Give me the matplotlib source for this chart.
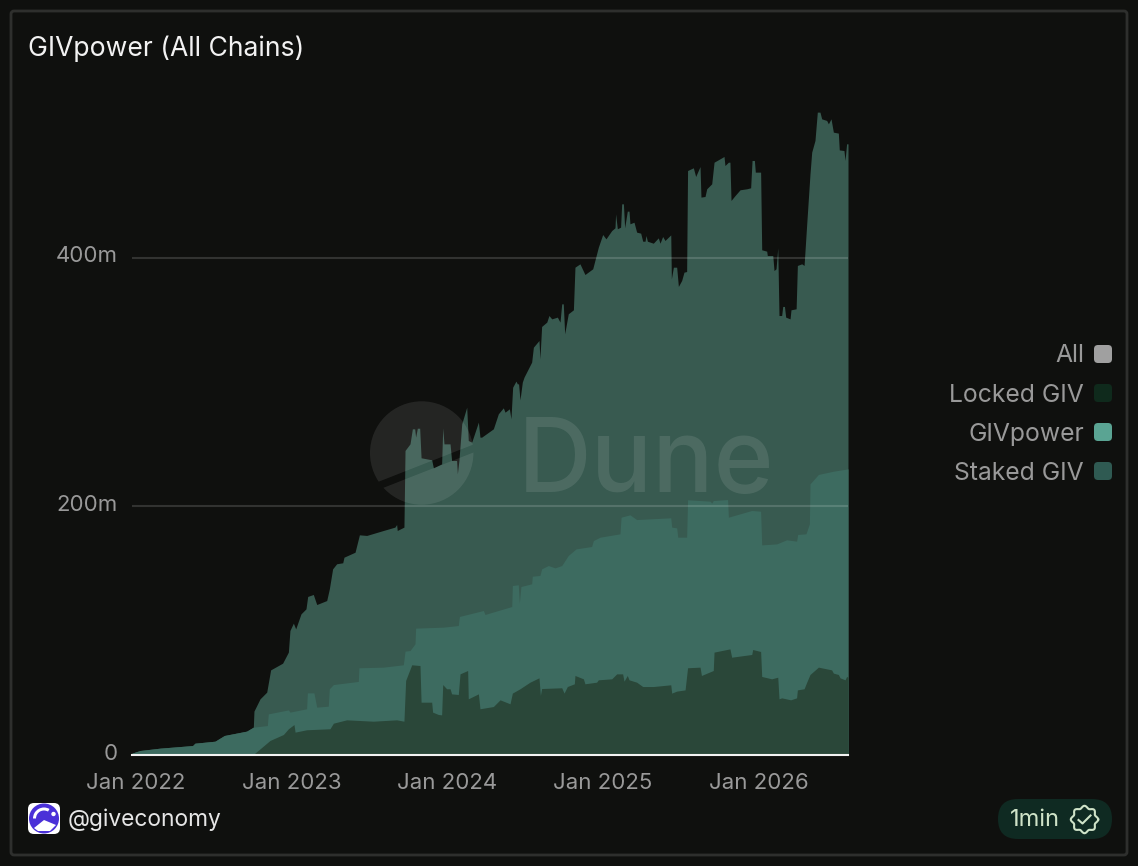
import numpy as np
import matplotlib
matplotlib.use('Agg')
import matplotlib.pyplot as plt
from matplotlib.patches import Circle, FancyBboxPatch, Polygon, Wedge
from matplotlib.transforms import ScaledTranslation

plt.rcParams['font.family'] = ['Inter', 'DejaVu Sans']

# x values are decimal years, y values are millions
staked_x = [2021.976, 2022.027, 2022.156, 2022.365, 2022.380, 2022.509, 2022.569, 2022.712, 2022.755, 2022.759,
            2022.798, 2022.841, 2022.866, 2022.943, 2022.980, 2022.990, 2023.012, 2023.027, 2023.061, 2023.093,
            2023.104, 2023.140, 2023.162, 2023.226, 2023.243, 2023.264, 2023.290, 2023.329, 2023.337, 2023.408,
            2023.436, 2023.483, 2023.590, 2023.664, 2023.675, 2023.679, 2023.722, 2023.729, 2023.761, 2023.776,
            2023.791, 2023.797, 2023.808, 2023.823, 2023.832, 2023.900, 2023.911, 2023.964, 2023.971, 2023.979,
            2024.018, 2024.028, 2024.060, 2024.065, 2024.075, 2024.093, 2024.125, 2024.135, 2024.157, 2024.200,
            2024.210, 2024.221, 2024.296, 2024.328, 2024.360, 2024.371, 2024.399, 2024.409, 2024.420, 2024.441,
            2024.450, 2024.458, 2024.467, 2024.482, 2024.493, 2024.542, 2024.553, 2024.589, 2024.595, 2024.606,
            2024.639, 2024.653, 2024.671, 2024.707, 2024.724, 2024.735, 2024.745, 2024.754, 2024.777, 2024.810,
            2024.820, 2024.852, 2024.884, 2024.934, 2024.970, 2024.998, 2025.019, 2025.056, 2025.077, 2025.081,
            2025.092, 2025.113, 2025.120, 2025.131, 2025.139, 2025.156, 2025.167, 2025.173, 2025.199, 2025.216,
            2025.242, 2025.255, 2025.270, 2025.276, 2025.285, 2025.323, 2025.355, 2025.366, 2025.383, 2025.398,
            2025.435, 2025.439, 2025.452, 2025.473, 2025.484, 2025.505, 2025.520, 2025.537, 2025.543, 2025.580,
            2025.595, 2025.623, 2025.629, 2025.655, 2025.666, 2025.698, 2025.713, 2025.751, 2025.777, 2025.783,
            2025.805, 2025.815, 2025.822, 2025.848, 2025.880, 2025.923, 2025.948, 2025.957, 2025.972, 2025.978,
            2026.012, 2026.019, 2026.051, 2026.055, 2026.090, 2026.098, 2026.111, 2026.122, 2026.130, 2026.147,
            2026.154, 2026.165, 2026.173, 2026.201, 2026.207, 2026.240, 2026.248, 2026.276, 2026.291, 2026.308,
            2026.329, 2026.340, 2026.361, 2026.376, 2026.393, 2026.404, 2026.436, 2026.447, 2026.464, 2026.479,
            2026.511, 2026.517, 2026.547, 2026.554, 2026.564, 2026.573]
staked_y = [1.1, 3.2, 5.1, 7.2, 9.1, 10.7, 15.3, 18.8, 22, 34.9,
            44.8, 50.2, 68.1, 73.5, 82.4, 99.8, 105.7, 101.1, 113.2, 117.2,
            127.2, 128.8, 120.7, 123.9, 133.3, 149.4, 153.5, 154.3, 158.8, 162.8,
            176.8, 176.3, 180.3, 183, 185.1, 180.3, 183, 244.7, 250, 262.1,
            262.1, 255.4, 262.6, 262.6, 238.8, 237.2, 230.7, 233.9, 262.9, 250,
            250, 236.6, 236.6, 225.9, 236.6, 266.1, 279.5, 252.7, 251.4, 267.5,
            255.4, 255.4, 262.1, 274.2, 279, 275.5, 278.2, 270.2, 295.6, 300.5,
            298.3, 298.3, 285.4, 299.7, 303.7, 315.8, 327.8, 333.2, 318.4, 344.5,
            348, 353.3, 350.6, 352, 348, 362.7, 362.7, 338.6, 354.7, 357.9,
            392.2, 394.9, 386.3, 390.9, 408.3, 418.5, 415, 421.7, 423.9, 435.1,
            423.1, 424.4, 443.2, 443.2, 423.9, 437.3, 437.3, 427.1, 428.4, 420.4,
            419.6, 413.1, 413.1, 417.7, 413.1, 411.5, 415.8, 411.5, 416.9, 413.7,
            418.2, 382.8, 392.2, 392.2, 376.7, 381.5, 388.2, 388.7, 470, 472.2,
            465.2, 473.2, 448.6, 449.1, 455.3, 459.3, 476.7, 479.4, 481.3, 474,
            476.7, 476.7, 445.9, 449.9, 454.5, 455.3, 456.1, 478.1, 478.1, 468.7,
            468.7, 406.2, 405.1, 401.6, 401.6, 389.5, 390.9, 407.8, 353.3, 353.3,
            360.6, 360.6, 352, 350.6, 357.9, 358.7, 393.6, 394.9, 393.6, 427.1,
            467.3, 484.8, 494.2, 517, 517, 511.6, 510.3, 507.6, 511.6, 500.9,
            500.1, 486.6, 486.1, 478.1, 491.5, 491.5]

givpower_x = [2021.976, 2022.027, 2022.156, 2022.365, 2022.380, 2022.509, 2022.569, 2022.712, 2022.755,
              2022.845, 2022.851, 2022.980, 2022.990, 2023.097, 2023.102, 2023.144, 2023.162, 2023.236, 2023.243,
              2023.269, 2023.429, 2023.433, 2023.590, 2023.718, 2023.729, 2023.761, 2023.793, 2023.797, 2023.975,
              2024.071, 2024.078, 2024.232, 2024.242, 2024.414, 2024.418, 2024.456, 2024.463, 2024.473, 2024.542,
              2024.546, 2024.595, 2024.606, 2024.649, 2024.692, 2024.735, 2024.777, 2024.827, 2024.927, 2024.938,
              2024.981, 2025.109, 2025.116, 2025.173, 2025.216, 2025.435, 2025.441, 2025.473, 2025.480, 2025.537,
              2025.543, 2025.687, 2025.698, 2025.708, 2025.800, 2025.805, 2025.955, 2026.012, 2026.019, 2026.115,
              2026.179, 2026.243, 2026.250, 2026.303, 2026.325, 2026.329, 2026.383, 2026.479, 2026.573]
givpower_y = [1.1, 3.2, 5.1, 7.2, 9.1, 10.7, 15.3, 18.8, 22,
              23.3, 32.7, 35.9, 34.1, 36.8, 49.6, 49.6, 38.1, 38.9, 52.9,
              56.3, 58.8, 69.8, 70.3, 72.2, 83.2, 83.7, 89.1, 101.7, 102.5,
              103.8, 111.1, 115.9, 112.7, 119.1, 136, 136.6, 121.8, 135.2, 137.4,
              143.5, 144.1, 149.4, 152.1, 150.2, 152.1, 160.2, 165.5, 167.4, 172.2,
              174.9, 177.6, 191, 192.9, 189.1, 190.5, 183, 182.4, 174.9, 174.9,
              205, 203.9, 202.3, 204.4, 205.2, 191, 196.4, 195.8, 168.7, 169.5,
              172.8, 171.7, 177.1, 177.6, 185.6, 217.8, 225.4, 228, 229.9]

locked_x = [2022.755, 2022.862, 2022.948, 2022.980, 2023.016, 2023.023, 2023.097, 2023.247, 2023.269, 2023.354,
            2023.525, 2023.675, 2023.722, 2023.733, 2023.772, 2023.825, 2023.832, 2023.900, 2023.906, 2023.943,
            2023.964, 2023.971, 2023.996, 2024.018, 2024.028, 2024.071, 2024.082, 2024.131, 2024.135, 2024.200,
            2024.210, 2024.296, 2024.339, 2024.403, 2024.418, 2024.467, 2024.531, 2024.589, 2024.598, 2024.606,
            2024.735, 2024.750, 2024.771, 2024.816, 2024.820, 2024.874, 2024.884, 2024.959, 2024.970, 2025.056,
            2025.088, 2025.126, 2025.135, 2025.156, 2025.167, 2025.216, 2025.255, 2025.323, 2025.435, 2025.441,
            2025.473, 2025.527, 2025.543, 2025.623, 2025.632, 2025.708, 2025.713, 2025.815, 2025.826, 2025.955,
            2025.961, 2026.012, 2026.019, 2026.083, 2026.122, 2026.130, 2026.147, 2026.205, 2026.243, 2026.248,
            2026.291, 2026.308, 2026.329, 2026.383, 2026.468, 2026.479, 2026.511, 2026.522, 2026.554, 2026.564,
            2026.573]
locked_y = [0, 11.3, 16.1, 20.7, 24.1, 18, 19.9, 20.7, 25.2, 27.9,
            26.8, 27.9, 26.8, 59.6, 72.2, 71.6, 42.1, 42.1, 34.1, 32.2,
            31.9, 56.3, 52.9, 52.9, 48.8, 48.3, 64.9, 67.6, 44.8, 48.8,
            36.8, 38.6, 44, 40.8, 49.4, 52.9, 58.2, 61.7, 47.5, 53.1,
            53.7, 49.4, 54.7, 56.9, 63.6, 60.9, 56.9, 58.2, 60.1, 60.9,
            64.9, 64.9, 59, 63.6, 60.1, 58.2, 54.7, 54.7, 56.1, 49.4,
            51, 52, 69.8, 70.3, 63.6, 67.6, 82.4, 85, 78.3, 80.5,
            84.5, 82.9, 62.8, 60.9, 62.2, 44.8, 45.6, 44, 45.6, 52,
            52.9, 58.2, 64.4, 70.3, 68.1, 65.5, 64.4, 61.7, 60.1, 62.8,
            62.2]

x_ticks = [2022, 2023, 2024, 2025, 2026]
x_labels = ['Jan 2022', 'Jan 2023', 'Jan 2024', 'Jan 2025', 'Jan 2026']
y_ticks = [0, 200, 400]
y_labels = ['0', '200m', '400m']
legend_names = ['All', 'Locked GIV', 'GIVpower', 'Staked GIV']
legend_colors = ['#a0a0a0', '#0f2a1c', '#5aa493', '#2f5a52']

W, H = 1138, 866
BG = '#0f100e'
GRAY = '#999999'

fig = plt.figure(figsize=(W / 100, H / 100), dpi=100, facecolor=BG)

# page layer in pixel coordinates for frame, legend and footer
page = fig.add_axes([0, 0, 1, 1], zorder=0)
page.set_xlim(0, W)
page.set_ylim(H, 0)
page.axis('off')
page.add_patch(FancyBboxPatch((11, 11), W - 22, H - 22, boxstyle='round,pad=0,rounding_size=3',
                              fc='none', ec='#2e2f2d', lw=2))
page.text(28, 49, 'GIVpower (All Chains)', color='#f2f2f2', fontsize=19.1, va='center', ha='left')

for i, (name, col) in enumerate(zip(legend_names, legend_colors)):
    yy = 354 + i * 39
    page.text(1084, yy + 2, name, color=GRAY, fontsize=17.8, ha='right', va='center')
    page.add_patch(FancyBboxPatch((1094, yy - 9), 18, 18, boxstyle='round,pad=0,rounding_size=4', fc=col, ec='none'))

# footer: logo, handle, refresh pill
page.add_patch(FancyBboxPatch((28, 803), 32, 31, boxstyle='round,pad=0,rounding_size=6', fc='#ffffff', ec='none'))
page.add_patch(Circle((44, 818.5), 15, fc='#4a30d8', ec='none'))
page.add_patch(Wedge((44, 818.5), 11, 180, 300, width=3, fc='#ffffff', ec='none'))
page.add_patch(Polygon([[34, 828], [44, 820], [56, 825], [50, 831], [38, 831]], fc='#ffffff', ec='none'))
page.add_patch(Circle((53.5, 814), 2.2, fc='#ffffff', ec='none'))
page.text(68, 820, '@giveconomy', color='#e6e6e6', fontsize=16.4, va='center', ha='left')

page.add_patch(FancyBboxPatch((998, 799), 114, 40, boxstyle='round,pad=0,rounding_size=20', fc='#0f2a22', ec='none'))
page.text(1010, 820, '1min', color='#cfe3c8', fontsize=17, va='center', ha='left')
ang = np.linspace(0, 2 * np.pi, 161)
rad = 12.5 + 1.2 * np.cos(8 * ang)
page.plot(1084.5 + rad * np.cos(ang), 819.5 + rad * np.sin(ang), color='#cfe3c8', lw=1.5)
page.plot([1078.5, 1082.5, 1090.5], [820, 823.5, 815.5], color='#cfe3c8', lw=1.5)

# chart
left, right, bottom, top = 132, 848, 754.5, 100
ax = fig.add_axes([left / W, 1 - bottom / H, (right - left) / W, (bottom - top) / H], zorder=1)
ax.patch.set_alpha(0)
ax.fill_between(staked_x, staked_y, 0, color='#385a50', lw=0, zorder=1)
ax.fill_between(givpower_x, givpower_y, 0, color='#3d6b60', lw=0, zorder=2)
ax.fill_between(locked_x, locked_y, 0, color='#2a4739', lw=0, zorder=3)

ax.set_xlim(2021.976, 2026.573)
ax.set_ylim(0, (bottom - top) / 1.2425)
for s in ax.spines.values():
    s.set_visible(False)
ax.axhline(0, color='#f2f2f2', lw=1.5, zorder=5, clip_on=False)
for v in y_ticks[1:]:
    ax.axhline(v, color='#ffffff', alpha=0.15, lw=1.5, zorder=4)
ax.set_xticks(x_ticks)
ax.set_xticklabels(x_labels)
ax.set_yticks(y_ticks)
ax.set_yticklabels(y_labels)
ax.tick_params(axis='both', length=0, labelcolor=GRAY, labelsize=16)
ax.tick_params(axis='x', pad=13.5)
ax.tick_params(axis='y', pad=10)
# y labels sit a little above their gridlines
nudge = ScaledTranslation(0, 3 / 100, fig.dpi_scale_trans)
for lab in ax.get_yticklabels():
    lab.set_transform(lab.get_transform() + nudge)

# Dune watermark over the chart
over = fig.add_axes([0, 0, 1, 1], zorder=2)
over.set_xlim(0, W)
over.set_ylim(H, 0)
over.axis('off')
clip = Circle((421.7, 453), 51.7, transform=over.transData)
up = Polygon([[360, 400], [490, 400], [490, 438], [360, 489]], fc='#ffffff', alpha=0.09, ec='none')
low = Polygon([[360, 497], [490, 446], [490, 510], [360, 510]], fc='#ffffff', alpha=0.09, ec='none')
for p in (up, low):
    over.add_patch(p)
    p.set_clip_path(clip)
over.text(518, 492, 'Dune', color='#ffffff', alpha=0.1, fontsize=73.5, fontweight='medium', ha='left', va='baseline')

fig.savefig('out.png', dpi=100, facecolor=BG)
